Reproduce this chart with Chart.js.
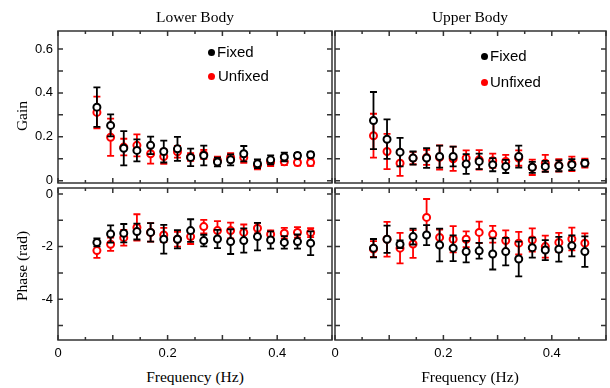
<!DOCTYPE html>
<html>
<head>
<meta charset="utf-8">
<script src="https://cdn.jsdelivr.net/npm/chart.js@4.4.0/dist/chart.umd.min.js"></script>
<style>
  body { margin: 0; width: 610px; height: 388px; background: #fff; position: relative; overflow: hidden; }
  canvas { position: absolute; }
  .t { position: absolute; font-family: "Liberation Serif", serif; font-size: 15.5px; color: #000; white-space: nowrap; transform: translate(-50%, -50%); }
  .rot { transform: translate(-50%, -50%) rotate(-90deg); }
  .lg { position: absolute; font-family: "Liberation Sans", sans-serif; font-size: 15px; line-height: 16px; white-space: nowrap; }
  .dot { position: absolute; width: 7px; height: 7px; border-radius: 50%; }
</style>
</head>
<body>
<canvas id="gainLower" width="333" height="184" style="left:0;top:0"></canvas>
<canvas id="gainUpper" width="277" height="184" style="left:333px;top:0"></canvas>
<canvas id="phaseLower" width="333" height="176" style="left:0;top:186px"></canvas>
<canvas id="phaseUpper" width="290" height="176" style="left:320px;top:186px"></canvas>

<div class="t" style="left:195px;top:17px">Lower Body</div>
<div class="t" style="left:470px;top:17px">Upper Body</div>
<div class="t rot" style="left:22px;top:116px">Gain</div>
<div class="t rot" style="left:22px;top:266px">Phase (rad)</div>
<div class="t" style="left:195px;top:377px">Frequency (Hz)</div>
<div class="t" style="left:470px;top:377px">Frequency (Hz)</div>

<div class="dot" style="left:208px;top:49px;background:#000"></div>
<div class="lg" style="left:217px;top:44px">Fixed</div>
<div class="dot" style="left:208px;top:73px;background:#f00"></div>
<div class="lg" style="left:218px;top:68px">Unfixed</div>
<div class="dot" style="left:481px;top:53px;background:#000"></div>
<div class="lg" style="left:490px;top:48px">Fixed</div>
<div class="dot" style="left:481px;top:79px;background:#f00"></div>
<div class="lg" style="left:490px;top:74px">Unfixed</div>

<script>
// frecvente (Hz)
const freq = [0.071, 0.096, 0.120, 0.144, 0.169, 0.193, 0.218, 0.242, 0.266, 0.291, 0.315, 0.339, 0.364, 0.388, 0.413, 0.437, 0.461];

// tick-uri cu eticheta
const freqTicks = [0, 0.2, 0.4];
const gainTicks = [0, 0.2, 0.4, 0.6];
const phaseTicks = [0, -2, -4];

// Gain - Lower Body
const lowerGainFixed = [0.335, 0.252, 0.148, 0.138, 0.161, 0.133, 0.145, 0.106, 0.115, 0.085, 0.095, 0.123, 0.077, 0.095, 0.108, 0.115, 0.118];
const lowerGainFixedErr = [0.09, 0.05, 0.078, 0.05, 0.04, 0.05, 0.055, 0.04, 0.045, 0.02, 0.025, 0.035, 0.02, 0.02, 0.02, 0.012, 0.012];
const lowerGainUnfixed = [0.311, 0.198, 0.153, 0.161, 0.123, 0.11, 0.132, 0.108, 0.12, 0.092, 0.106, 0.106, 0.07, 0.085, 0.086, 0.083, 0.083];
const lowerGainUnfixedErr = [0.072, 0.085, 0.038, 0.05, 0.045, 0.033, 0.027, 0.018, 0.02, 0.018, 0.02, 0.025, 0.018, 0.018, 0.015, 0.013, 0.015];

// Gain - Upper Body
const upperGainFixed = [0.274, 0.189, 0.13, 0.103, 0.103, 0.11, 0.11, 0.076, 0.088, 0.073, 0.065, 0.11, 0.061, 0.065, 0.068, 0.073, 0.08];
const upperGainFixedErr = [0.13, 0.09, 0.065, 0.03, 0.045, 0.05, 0.045, 0.045, 0.035, 0.03, 0.03, 0.05, 0.025, 0.025, 0.025, 0.025, 0.015];
const upperGainUnfixed = [0.205, 0.133, 0.08, 0.103, 0.106, 0.106, 0.1, 0.103, 0.095, 0.091, 0.088, 0.103, 0.061, 0.08, 0.07, 0.077, 0.08];
const upperGainUnfixedErr = [0.1, 0.08, 0.058, 0.028, 0.034, 0.055, 0.055, 0.035, 0.044, 0.032, 0.03, 0.035, 0.035, 0.038, 0.028, 0.033, 0.02];

// Phase - Lower Body
const lowerPhaseFixed = [-1.84, -1.52, -1.49, -1.43, -1.46, -1.72, -1.72, -1.39, -1.77, -1.71, -1.81, -1.77, -1.62, -1.75, -1.84, -1.81, -1.87];
const lowerPhaseFixedErr = [0.15, 0.33, 0.35, 0.3, 0.35, 0.55, 0.35, 0.43, 0.22, 0.35, 0.47, 0.46, 0.52, 0.33, 0.24, 0.27, 0.45];
const lowerPhaseUnfixed = [-2.15, -1.91, -1.66, -1.27, -1.46, -1.56, -1.72, -1.62, -1.24, -1.39, -1.39, -1.46, -1.3, -1.53, -1.49, -1.46, -1.47];
const lowerPhaseUnfixedErr = [0.28, 0.25, 0.3, 0.5, 0.35, 0.27, 0.28, 0.28, 0.26, 0.36, 0.3, 0.3, 0.2, 0.15, 0.2, 0.2, 0.17];

// Phase - Upper Body
const upperPhaseFixed = [-2.06, -1.72, -1.91, -1.62, -1.56, -1.94, -2.06, -2.19, -2.16, -2.28, -2.19, -2.47, -2.04, -2.13, -2.1, -1.97, -2.19];
const upperPhaseFixedErr = [0.35, 0.52, 0.15, 0.3, 0.38, 0.62, 0.49, 0.41, 0.3, 0.59, 0.52, 0.66, 0.38, 0.38, 0.47, 0.4, 0.58];
const upperPhaseUnfixed = [-2.09, -1.72, -2.06, -1.9, -0.89, -1.65, -1.72, -1.72, -1.46, -1.53, -1.77, -1.87, -1.75, -2.0, -1.84, -1.71, -1.87];
const upperPhaseUnfixedErr = [0.3, 0.66, 0.58, 0.53, 0.7, 0.3, 0.5, 0.3, 0.41, 0.32, 0.39, 0.43, 0.44, 0.42, 0.36, 0.43, 0.37];

const tickFont = { family: 'Liberation Sans', size: 13 };

// bare de eroare + rama cu tick-uri spre interior
const panelPlugin = {
    id: 'panel',
    beforeDatasetDraw(chart, args) {
        const ds = chart.data.datasets[args.index];
        const ys = chart.scales.y;
        const ctx = chart.ctx;
        ctx.save();
        ctx.strokeStyle = ds.borderColor;
        ctx.lineWidth = 1.8;
        args.meta.data.forEach((pt, i) => {
            const v = ds.data[i].y, e = ds.err[i];
            const top = ys.getPixelForValue(v + e);
            const bot = ys.getPixelForValue(v - e);
            ctx.beginPath();
            ctx.moveTo(pt.x, top); ctx.lineTo(pt.x, bot);
            ctx.moveTo(pt.x - 3.5, top); ctx.lineTo(pt.x + 3.5, top);
            ctx.moveTo(pt.x - 3.5, bot); ctx.lineTo(pt.x + 3.5, bot);
            ctx.stroke();
        });
        ctx.restore();
    },
    afterDraw(chart, args, opts) {
        const ctx = chart.ctx;
        const xs = chart.scales.x, ys = chart.scales.y;
        const L = xs.getPixelForValue(0), R = xs.getPixelForValue(0.5);
        const T = ys.getPixelForValue(ys.max), B = ys.getPixelForValue(ys.min);
        ctx.save();
        ctx.strokeStyle = '#333';
        ctx.lineWidth = 1.5;
        ctx.beginPath();
        for (let k = 0; k <= 10; k++) {
            const px = xs.getPixelForValue(k * 0.05);
            const len = k % 2 === 0 ? 5 : 3;
            ctx.moveTo(px, T); ctx.lineTo(px, T + len);
            ctx.moveTo(px, B); ctx.lineTo(px, B - len);
        }
        for (let v = opts.yFrom; v >= opts.yTo - 1e-9; v -= opts.yStep) {
            const py = ys.getPixelForValue(v);
            ctx.moveTo(L, py); ctx.lineTo(L + 5, py);
            ctx.moveTo(R, py); ctx.lineTo(R - 5, py);
        }
        ctx.stroke();
        ctx.strokeRect(L, T, R - L, B - T);
        ctx.restore();
    }
};

// fara padding automat pentru etichete
function noPad(s) {
    s.paddingTop = 0; s.paddingBottom = 0; s.paddingLeft = 0; s.paddingRight = 0;
}

function makePanel(id, fixed, fixedErr, unfixed, unfixedErr, cfg) {
    const pts = arr => arr.map((y, i) => ({ x: freq[i], y: y }));
    new Chart(document.getElementById(id), {
        type: 'scatter',
        data: {
            datasets: [
                { label: 'Fixed', data: pts(fixed), err: fixedErr, borderColor: '#000', pointBackgroundColor: '#fff', pointBorderColor: '#000' },
                { label: 'Unfixed', data: pts(unfixed), err: unfixedErr, borderColor: '#f00', pointBackgroundColor: '#fff', pointBorderColor: '#f00' }
            ]
        },
        options: {
            responsive: false,
            animation: false,
            devicePixelRatio: 1,
            layout: { padding: cfg.padding, autoPadding: false },
            elements: { point: { radius: 3.5, borderWidth: 2, hoverRadius: 3.5 } },
            plugins: {
                legend: { display: false },
                tooltip: { enabled: false },
                panel: { yFrom: cfg.yFrom, yTo: cfg.yTo, yStep: cfg.yStep }
            },
            scales: {
                x: {
                    type: 'linear', min: 0, max: 0.5,
                    display: cfg.showX,
                    grid: { display: false, drawTicks: false },
                    border: { display: false },
                    afterBuildTicks: s => { s.ticks = freqTicks.map(v => ({ value: v })); },
                    afterFit: s => { s.height = cfg.showX ? 22 : 0; noPad(s); },
                    ticks: { font: tickFont, color: '#000', padding: 6, maxRotation: 0, autoSkip: false, callback: v => String(v) }
                },
                y: {
                    type: 'linear', min: cfg.yMin, max: cfg.yMax,
                    display: cfg.showY,
                    grid: { display: false, drawTicks: false },
                    border: { display: false },
                    afterBuildTicks: s => { s.ticks = cfg.yTicks.map(v => ({ value: v })); },
                    afterFit: s => { s.width = cfg.showY ? 58 : 0; noPad(s); },
                    ticks: { font: tickFont, color: '#000', padding: 5, autoSkip: false, callback: v => String(v) }
                }
            }
        },
        plugins: [panelPlugin]
    });
}

const gainCfg = { yMin: -0.0105, yMax: 0.682, yTicks: gainTicks, yFrom: 0.6, yTo: 0, yStep: 0.1 };
const phaseCfg = { yMin: -5.55, yMax: 0.228, yTicks: phaseTicks, yFrom: 0, yTo: -5, yStep: 1 };

makePanel('gainLower', lowerGainFixed, lowerGainFixedErr, lowerGainUnfixed, lowerGainUnfixedErr,
    Object.assign({}, gainCfg, { showX: false, showY: true, padding: { top: 31, right: 1, bottom: 1, left: 0 } }));
makePanel('gainUpper', upperGainFixed, upperGainFixedErr, upperGainUnfixed, upperGainUnfixedErr,
    Object.assign({}, gainCfg, { showX: false, showY: false, padding: { top: 31, right: 4, bottom: 1, left: 2 } }));
makePanel('phaseLower', lowerPhaseFixed, lowerPhaseFixedErr, lowerPhaseUnfixed, lowerPhaseUnfixedErr,
    Object.assign({}, phaseCfg, { showX: true, showY: true, padding: { top: 2, right: 1, bottom: 0, left: 0 } }));
makePanel('phaseUpper', upperPhaseFixed, upperPhaseFixedErr, upperPhaseUnfixed, upperPhaseUnfixedErr,
    Object.assign({}, phaseCfg, { showX: true, showY: false, padding: { top: 2, right: 4, bottom: 0, left: 15 } }));
</script>
</body>
</html>
